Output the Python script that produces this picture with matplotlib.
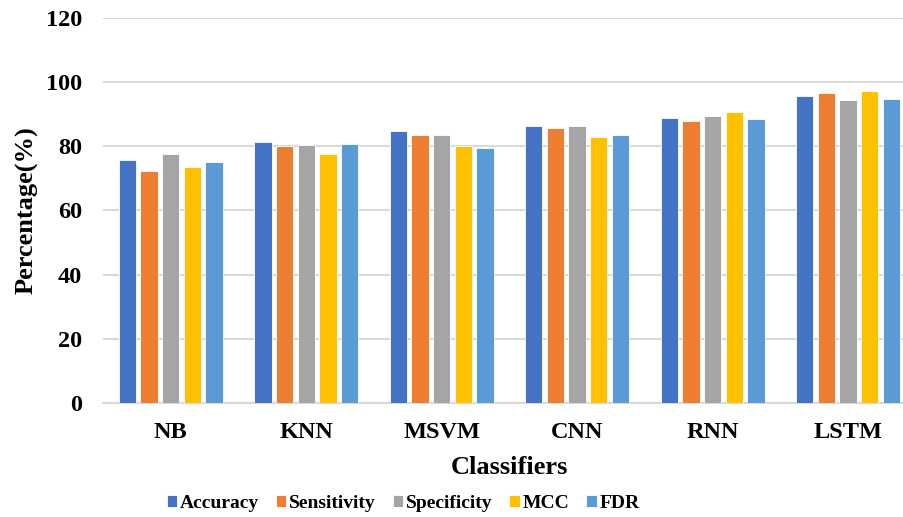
import matplotlib.pyplot as plt
import numpy as np

classifiers = ["NB", "KNN", "MSVM", "CNN", "RNN", "LSTM"]
metrics = ["Accuracy", "Sensitivity", "Specificity", "MCC", "FDR"]

accuracy = [75.7, 81.3, 84.8, 86.4, 88.8, 95.7]
sensitivity = [72.4, 80.0, 83.6, 85.7, 88.0, 96.5]
specificity = [77.5, 80.3, 83.6, 86.4, 89.6, 94.5]
mcc = [73.5, 77.6, 80.0, 82.8, 90.8, 97.3]
fdr = [75.2, 80.7, 79.6, 83.6, 88.4, 94.8]

colors = ["#4472C4", "#ED7D31", "#A5A5A5", "#FFC000", "#5B9BD5"]

plt.rcParams["font.family"] = ["Liberation Serif", "DejaVu Serif"]
plt.rcParams["font.weight"] = "bold"

fig = plt.figure(figsize=(9.04, 5.17), dpi=100)
# plot area runs slightly past the right edge, as in the cropped original
ax = fig.add_axes([0.114, 0.221, 0.899, 0.744])

x = np.arange(len(classifiers))
step = 0.16
series = [accuracy, sensitivity, specificity, mcc, fdr]
for i, (name, vals) in enumerate(zip(metrics, series)):
    ax.bar(x + (i - 2) * step, vals, width=0.128, color=colors[i],
           edgecolor="#FFFFFF", linewidth=0.6, label=name, zorder=3)

ax.set_xlim(-0.5, len(classifiers) - 0.5)
ax.set_ylim(0, 120)
ax.set_yticks(range(0, 121, 20))
ax.set_xticks(x)
ax.set_xticklabels(classifiers, fontsize=17.5, fontweight="bold")
ax.tick_params(axis="y", labelsize=17.5, length=0, pad=15)
ax.tick_params(axis="x", length=0, pad=14)
for lbl in ax.get_yticklabels():
    lbl.set_fontweight("bold")

ax.grid(axis="y", color="#D9D9D9", linewidth=1.5, zorder=0)
for side in ["top", "right", "left"]:
    ax.spines[side].set_visible(False)
ax.spines["bottom"].set_color("#D9D9D9")
ax.spines["bottom"].set_linewidth(1.5)

ax.set_xlabel("Classifiers", fontsize=19, fontweight="bold", labelpad=9)
ax.set_ylabel("Percentage(%)", fontsize=19, fontweight="bold", labelpad=5)

fig.legend(loc="center", bbox_to_anchor=(0.446, 0.027), ncol=5,
           frameon=False, prop={"size": 14, "weight": "bold"},
           handlelength=0.55, handleheight=0.55, handletextpad=0.15,
           columnspacing=0.85, borderpad=0)

fig.savefig("out.png", dpi=100)
